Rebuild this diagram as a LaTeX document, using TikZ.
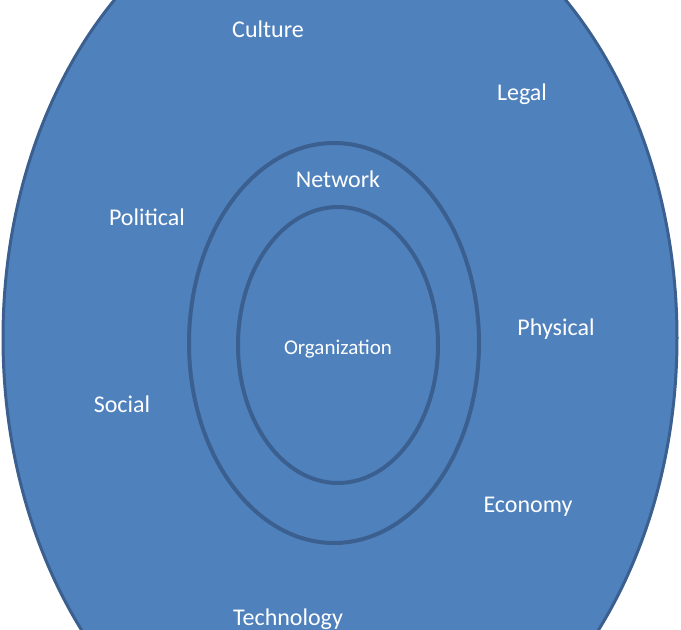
\documentclass[tikz,border=0pt]{standalone}
\usepackage{fontspec}
\setmainfont{Carlito}
\usetikzlibrary{shapes.geometric}
\definecolor{fillblue}{HTML}{4F81BD}
\definecolor{edgeblue}{HTML}{3B6090}
\tikzset{
  ring/.style={draw=edgeblue, line width=4pt, ellipse, inner sep=0pt},
  lbl/.style={text=white, font=\fontsize{24}{28}\selectfont, inner sep=0pt},
  orglbl/.style={text=white, font=\fontsize{21}{25}\selectfont, inner sep=0pt}
}
\begin{document}
\begin{tikzpicture}[x=1pt,y=-1pt]
\useasboundingbox (0,0) rectangle (681,630);
\clip (0,0) rectangle (681,630);
\draw[draw=edgeblue, fill=fillblue, line width=3pt] (340,338) ellipse [x radius=337, y radius=455];
\node[ring, minimum width=290pt, minimum height=400pt] (network) at (334,343) {};
\node[ring, minimum width=200pt, minimum height=276pt] (org) at (338,345) {};
\node[lbl] (culture) at (268,29) {Culture};
\node[lbl] (legal) at (522,94) {Legal};
\node[lbl] (networklbl) at (338,179) {Network};
\node[lbl] (political) at (147,217) {Political};
\node[lbl] (physical) at (556,329) {Physical};
\node[orglbl] (orglbl) at (338,349) {Organization};
\node[lbl] (social) at (122,404) {Social};
\node[lbl] (economy) at (528,507) {Economy};
\node[lbl] (technology) at (288,619) {Technology};
\end{tikzpicture}
\end{document}
